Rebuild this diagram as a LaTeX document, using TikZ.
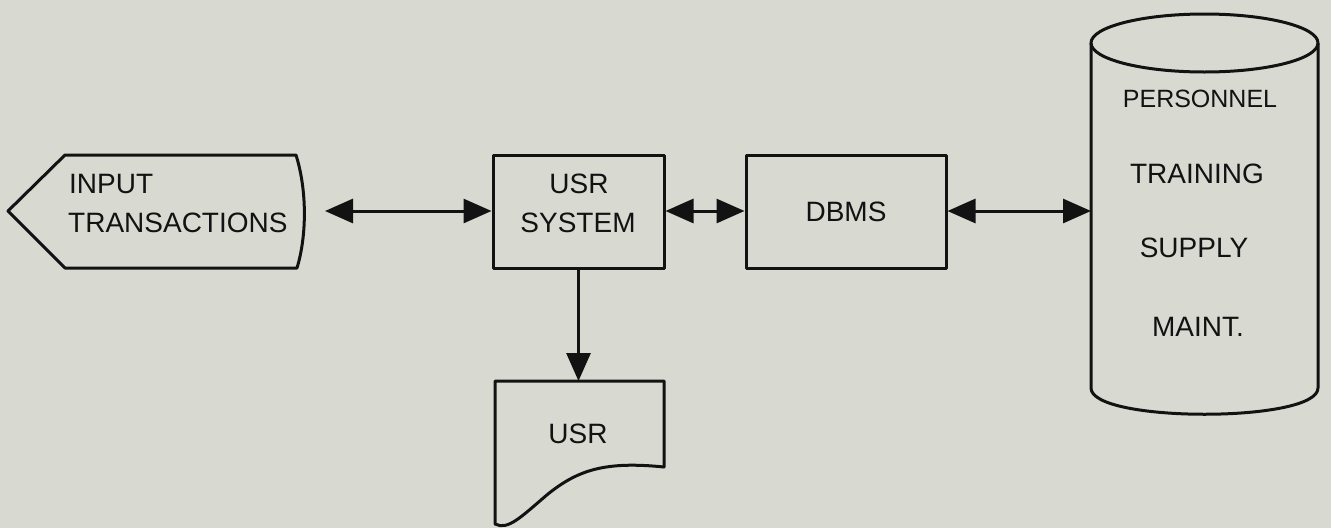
\documentclass[tikz,border=0pt]{standalone}
\usepackage{fontspec}
\setmainfont{Liberation Sans}
\usetikzlibrary{arrows.meta}
\definecolor{paper}{RGB}{216,218,210}
\definecolor{ink}{RGB}{18,18,18}
\begin{document}
\begin{tikzpicture}[x=1pt,y=-1pt,
  outline/.style={draw=ink, line width=3pt, line join=round},
  box/.style={outline, rectangle, inner sep=0pt},
  lbl/.style={font=\fontsize{28}{33}\selectfont, text=ink, inner sep=0pt},
  tip/.tip={Triangle[length=28pt,width=24pt]},
  link/.style={draw=ink, line width=3pt, tip-tip},
  flow/.style={draw=ink, line width=3pt, -tip}]
  % page
  \fill[paper] (0,0) rectangle (1331,528);
  \useasboundingbox (0,0) rectangle (1331,528);

  % input transactions (display / terminal shape)
  \draw[outline] (65,155) -- (296,155)
    .. controls (307,190) and (307,235) .. (297,268)
    -- (65,268) -- (8,211) -- cycle;
  \node[lbl, anchor=base west] (inA) at (69,193) {INPUT};
  \node[lbl, anchor=base west] (inB) at (68,232) {TRANSACTIONS};
  \coordinate (inEnd) at (325,211);

  % processing boxes
  \node[box, minimum width=171pt, minimum height=113pt] (sys) at (578.5,211.5) {};
  \node[lbl, anchor=base] (sysA) at (579,193) {USR};
  \node[lbl, anchor=base] (sysB) at (578,232) {SYSTEM};
  \node[box, lbl, minimum width=200pt, minimum height=113pt] (dbms) at (846,211.5) {DBMS};

  % report document
  \draw[outline] (495,381) -- (664,381) -- (664,467)
    .. controls (605,461) and (578,470) .. (548,494)
    .. controls (522,516) and (508,531) .. (495,524) -- cycle;
  \coordinate (docTop) at (578.5,381);
  \node[lbl] (doc) at (578,434) {USR};

  % database cylinder
  \draw[outline] (1204.5,43) ellipse [x radius=113.5, y radius=29];
  \draw[outline] (1091,43) -- (1091,388)
    .. controls (1091,423) and (1318,423) .. (1318,388) -- (1318,43);
  \coordinate (dbL) at (1091,211);
  \node[lbl, font=\fontsize{25}{29}\selectfont] (f1) at (1200,99) {PERSONNEL};
  \node[lbl] (f2) at (1197,174) {TRAINING};
  \node[lbl] (f3) at (1194,248) {SUPPLY};
  \node[lbl] (f4) at (1198,327) {MAINT.};

  % connectors
  \draw[link] (inEnd) -- (inEnd -| sys.west);
  \draw[link] (sys.east |- 0,211) -- (dbms.west |- 0,211);
  \draw[link] (dbms.east |- 0,211) -- (dbL);
  \draw[flow] (sys.south) -- (docTop);
\end{tikzpicture}
\end{document}
